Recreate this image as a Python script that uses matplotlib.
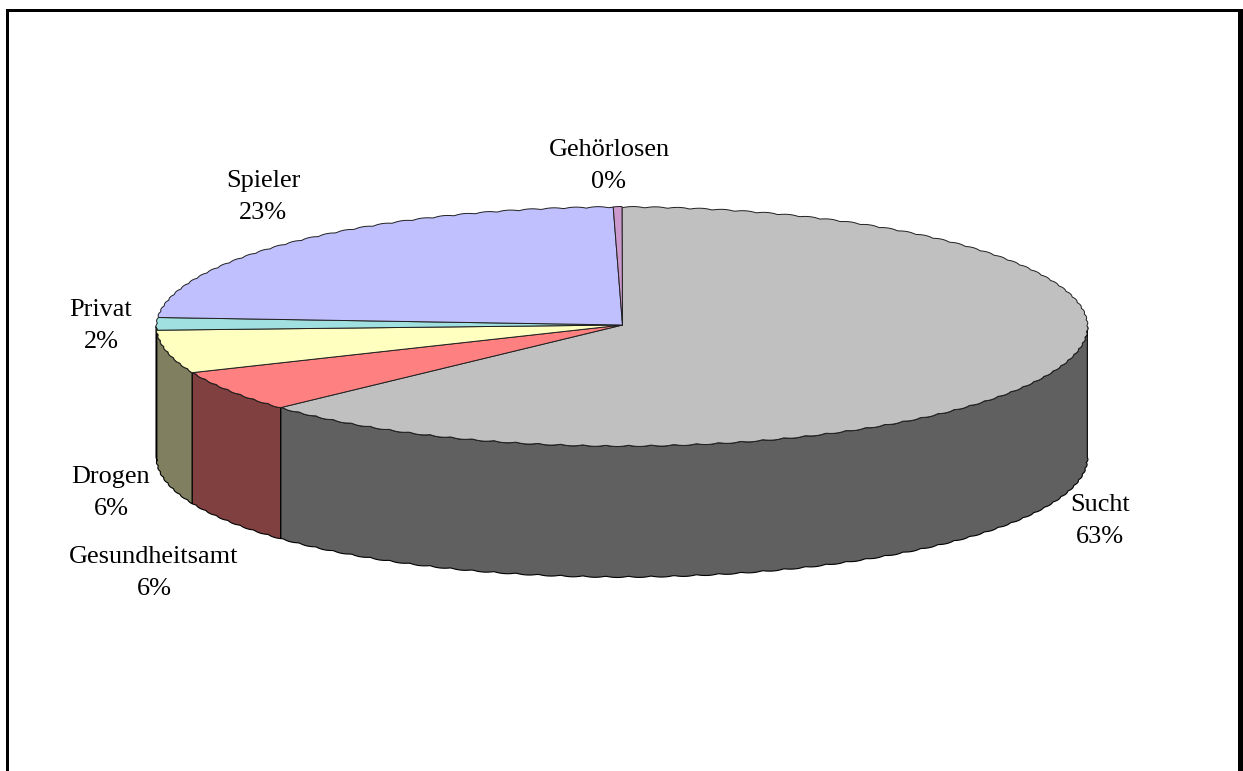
import numpy as np
import matplotlib
matplotlib.use('Agg')
import matplotlib.pyplot as plt
from matplotlib.patches import Polygon, Rectangle

# Share of enquiries per counselling area (percent), clockwise from 12 o'clock
names = ['Sucht', 'Gesundheitsamt', 'Drogen', 'Privat', 'Spieler', 'Gehörlosen']
shares = [63.1, 5.6, 5.8, 1.7, 23.49, 0.3]
top_colors = ['#C0C0C0', '#FF8080', '#FFFFC0', '#A0E0E0', '#C0C0FF', '#CC99CC']
side_colors = ['#606060', '#804040', '#808060', '#507070', '#606080', '#664C66']
label_xy = [(1100, 521), (154, 573), (111, 493), (101, 326), (263, 197), (609, 166)]

plt.rcParams['font.family'] = ['Liberation Serif', 'DejaVu Serif']

W, H = 1243, 771
cx, cy = 622, 326.5
rx, ry = 466, 120
depth = 131
bump_len = 2.8     # degrees per scallop on the rim
bump_size = 1.3    # pixels

fig = plt.figure(figsize=(W / 100, H / 100), dpi=100)
ax = fig.add_axes([0, 0, 1, 1])
ax.set_xlim(0, W)
ax.set_ylim(H, 0)
ax.axis('off')

# outer frame, open at the bottom
for x, y, w, h in [(6, 9, 3, 762), (6, 9, 1232, 3), (1238, 9, 5, 762)]:
    ax.add_patch(Rectangle((x, y), w, h, fc='black', ec='none', zorder=1))


def rim(a0, a1):
    """Scalloped outline of the ellipse between two clock angles (deg)."""
    n = max(int((a1 - a0) / 0.3), 1) + 1
    deg = np.linspace(a0, a1, n)
    p = (deg / bump_len) % 1
    dent = bump_size * (1 - 4 * p * (1 - p))
    a = np.radians(deg)
    x = cx + (rx - dent) * np.sin(a)
    y = cy - (ry - dent) * np.cos(a)
    return np.column_stack([x, y])


edges = np.cumsum([0] + shares) / sum(shares) * 360

# side wall only on the front half of the cylinder
for i in range(len(shares)):
    a0, a1 = max(edges[i], 90), min(edges[i + 1], 270)
    if a1 <= a0:
        continue
    r = rim(a0, a1)
    wall = np.vstack([r, (r + [0, depth])[::-1]])
    ax.add_patch(Polygon(wall, closed=True, fc=side_colors[i], ec='black', lw=0.8,
                         joinstyle='round', zorder=2))

# top face
for i in range(len(shares)):
    r = rim(edges[i], edges[i + 1])
    face = np.vstack([[cx + 0.5, cy - 1.5], r])
    ax.add_patch(Polygon(face, closed=True, fc=top_colors[i], ec='#202020', lw=0.7,
                         joinstyle='round', zorder=3))

for name, share, (x, y) in zip(names, shares, label_xy):
    ax.text(x, y, f'{name}\n{share:.0f}%', ha='center', va='center', fontsize=18.9,
            linespacing=1.53, color='black', zorder=4)

fig.savefig('out.png', dpi=100)
